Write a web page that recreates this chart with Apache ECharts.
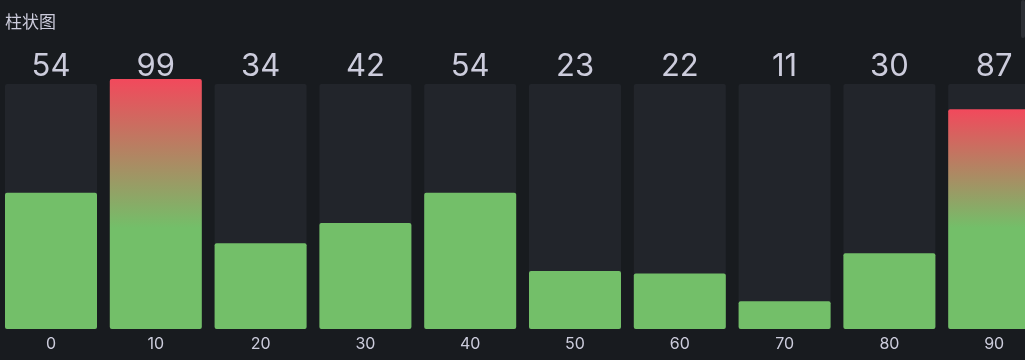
<!DOCTYPE html>
<html>
<head>
<meta charset="utf-8">
<script src="https://cdn.jsdelivr.net/npm/echarts@6/dist/echarts.min.js"></script>
<style>
html,body{margin:0;padding:0;background:#181b1f;}
#c{width:1025px;height:360px;}
</style>
</head>
<body>
<div id="c"></div>
<script>
const categories = ['0','10','20','30','40','50','60','70','80','90'];
const values = [54, 99, 34, 42, 54, 23, 22, 11, 30, 87];
const trackValues = [97, 97, 97, 97, 97, 97, 97, 97, 97, 97];
const threshold = 80;

const GREEN = '#73bf69';
const RED = '#f2495c';
const TEXT = '#ccccdc';

function barColor(v) {
  if (v < threshold) return GREEN;
  const g = 1 - (threshold / 2) / v;
  return new echarts.graphic.LinearGradient(0, 0, 0, 1, [
    {offset: 0, color: RED},
    {offset: g, color: GREEN},
    {offset: 1, color: GREEN}
  ]);
}

const chart = echarts.init(document.getElementById('c'), null, {renderer: 'canvas'});
chart.setOption({
  backgroundColor: '#181b1f',
  animation: false,
  title: {
    text: '柱状图', left: 0, top: 8,
    textStyle: {color: TEXT, fontSize: 17, fontWeight: 'normal', fontFamily: 'Noto Sans CJK SC'}
  },
  graphic: [{
    type: 'rect', shape: {x: 1021, y: 0, width: 4, height: 38, r: 2},
    style: {fill: '#2c2f35'}
  }],
  grid: {left: -1.4, width: 1048, top: 76.5, height: 252.5, outerBoundsMode: 'none', containLabel: false},
  xAxis: {
    type: 'category', data: categories,
    axisLine: {show: false}, axisTick: {show: false},
    axisLabel: {color: TEXT, fontSize: 16, margin: 7, fontFamily: 'Inter'}
  },
  yAxis: {type: 'value', min: 0, max: 100, show: false, splitLine: {show: false}},
  series: [{
    type: 'bar', data: trackValues, barWidth: 92, silent: true, z: 1,
    itemStyle: {color: '#22252b', borderRadius: 2},
    label: {
      show: true, position: 'top', distance: 2,
      formatter: p => String(values[p.dataIndex]),
      color: TEXT, fontSize: 31, fontFamily: 'Inter', lineHeight: 31
    }
  }, {
    type: 'bar', data: values.map(v => ({value: v, itemStyle: {color: barColor(v)}})),
    barWidth: 92, barGap: '-100%', z: 2,
    itemStyle: {borderRadius: 2}
  }]
});
</script>
</body>
</html>
